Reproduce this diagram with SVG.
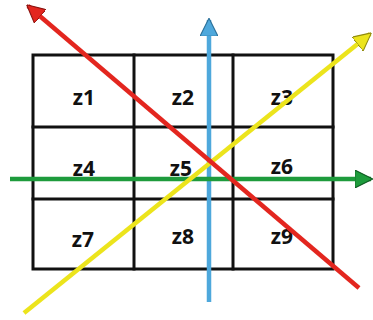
<svg xmlns="http://www.w3.org/2000/svg" width="373" height="320" viewBox="0 0 373 320">
<style>
.grid{stroke:#111;stroke-width:3;fill:none;stroke-linecap:square}
.lbl{font-family:"Open Sans","Liberation Sans",sans-serif;font-weight:700;font-size:21px;fill:#111;text-anchor:middle}
.arr{fill:none;stroke-width:4.5;stroke-linecap:butt}
</style>
<defs>
<marker id="mr" viewBox="0 0 10 10" refX="9" refY="5" markerWidth="4" markerHeight="4" orient="auto" markerUnits="strokeWidth"><path d="M0,0 L10,5 L0,10 z" fill="#e3261f" stroke="#8a1410" stroke-width="0.6"/></marker>
<marker id="mb" viewBox="0 0 10 10" refX="9" refY="5" markerWidth="4" markerHeight="4" orient="auto" markerUnits="strokeWidth"><path d="M0,0 L10,5 L0,10 z" fill="#4ea8dc" stroke="#2a6f98" stroke-width="0.6"/></marker>
<marker id="my" viewBox="0 0 10 10" refX="9" refY="5" markerWidth="4" markerHeight="4" orient="auto" markerUnits="strokeWidth"><path d="M0,0 L10,5 L0,10 z" fill="#ece41c" stroke="#8f8a10" stroke-width="0.6"/></marker>
<marker id="mg" viewBox="0 0 10 10" refX="9" refY="5" markerWidth="4" markerHeight="4" orient="auto" markerUnits="strokeWidth"><path d="M0,0 L10,5 L0,10 z" fill="#1e9b3c" stroke="#0f5a22" stroke-width="0.6"/></marker>
</defs>
<g id="grid">
<rect class="grid" x="33" y="55" width="300" height="214"/>
<line class="grid" x1="134" y1="55" x2="134" y2="269"/>
<line class="grid" x1="233" y1="55" x2="233" y2="269"/>
<line class="grid" x1="33" y1="127" x2="333" y2="127"/>
<line class="grid" x1="33" y1="199" x2="333" y2="199"/>
</g>
<g id="z1"><text class="lbl" x="84" y="105">z1</text></g>
<g id="z2"><text class="lbl" x="183" y="105">z2</text></g>
<g id="z3"><text class="lbl" x="282" y="105">z3</text></g>
<g id="z4"><text class="lbl" x="84" y="176">z4</text></g>
<g id="z5"><text class="lbl" x="181" y="176">z5</text></g>
<g id="z6"><text class="lbl" x="282" y="174">z6</text></g>
<g id="z7"><text class="lbl" x="83" y="247">z7</text></g>
<g id="z8"><text class="lbl" x="183" y="244">z8</text></g>
<g id="z9"><text class="lbl" x="282" y="244">z9</text></g>
<g id="connectors">
<line class="arr" x1="209" y1="302" x2="209" y2="20" stroke="#4ea8dc" marker-end="url(#mb)"/>
<line class="arr" x1="10" y1="179" x2="371" y2="179" stroke="#1e9b3c" marker-end="url(#mg)"/>
<line class="arr" x1="24" y1="313" x2="370" y2="34" stroke="#ece41c" marker-end="url(#my)"/>
<line class="arr" x1="359" y1="288" x2="28" y2="6" stroke="#e3261f" marker-end="url(#mr)"/>
</g>
</svg>
